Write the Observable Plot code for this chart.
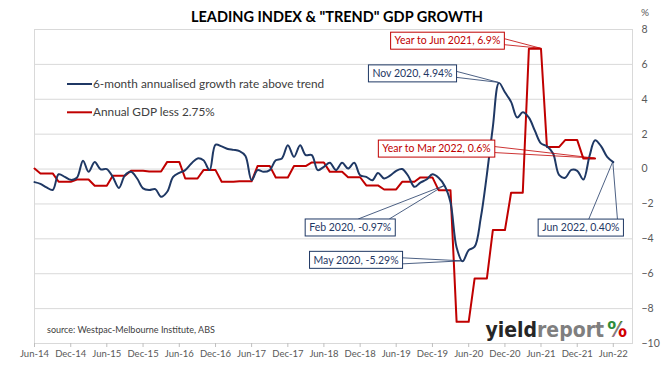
<!DOCTYPE html>
<html><head><meta charset="utf-8">
<script src="https://cdn.jsdelivr.net/npm/d3@7"></script>
<script src="https://cdn.jsdelivr.net/npm/@observablehq/plot@0.6"></script>
<style>
html,body{margin:0;padding:0;background:#fff;overflow:hidden}
#chart svg{display:block}
</style></head><body><div id="chart"></div>
<script>
// ---------- DATA ----------
const title = 'LEADING INDEX & "TREND" GDP GROWTH';
const seriesNames = ["6-month annualised growth rate above trend", "Annual GDP less 2.75%"];
const sourceText = "source: Westpac-Melbourne Institute, ABS";
const logoParts = ["yield", "report", "%"];
const startMonth = "2014-06";
// monthly, Jun-14 .. Jun-22
const leadingIndex = [
  -0.75,-0.85,-1.05,-1.2,-0.3,-0.45,-0.62,-0.5,0.48,-0.16,0.4,-0.02,
  0.0,-0.45,-1.08,-0.35,-0.16,-0.54,-1.11,-1.2,-1.15,-1.59,-1.3,-0.45,
  -0.22,-0.06,0.32,0.61,0.5,-0.06,1.4,1.3,1.15,1.1,1.03,0.75,
  -0.64,-0.06,-0.16,-0.06,0.5,0.61,1.37,0.7,1.37,0.8,0.8,-0.06,
  0.13,0.36,-0.06,0.36,0.03,0.36,-0.35,-0.45,-0.64,-0.22,-0.54,-0.38,
  -0.1,0.0,-0.4,-1.02,-0.78,-0.6,-0.3,-0.5,-0.97,-1.9,-4.5,-5.29,
  -4.65,-4.45,-2.8,-0.3,2.42,4.94,4.4,3.85,2.95,3.25,2.95,2.2,
  1.47,1.31,0.89,-0.35,-0.5,-0.05,-0.1,-0.6,0.75,1.65,1.3,0.7,
  0.40
];
// quarterly (quarter ending), annual GDP growth less 2.75%
const gdpQuarters = ["Jun-14","Sep-14","Dec-14","Mar-15","Jun-15","Sep-15","Dec-15","Mar-16",
  "Jun-16","Sep-16","Dec-16","Mar-17","Jun-17","Sep-17","Dec-17","Mar-18","Jun-18","Sep-18",
  "Dec-18","Mar-19","Jun-19","Sep-19","Dec-19","Mar-20","Jun-20","Sep-20","Dec-20","Mar-21",
  "Jun-21","Sep-21","Dec-21","Mar-22"];
const gdpLessTrend = [0.03,-0.25,-0.73,-0.6,-0.96,-0.39,-0.1,-0.14,
  0.41,-0.54,-0.06,-0.73,-0.7,0.17,-0.48,0.17,0.38,-0.16,
  -0.47,-0.94,-1.17,-0.73,-0.48,-1.21,-8.76,-6.27,-3.5,-1.36,
  6.9,1.27,1.66,0.6];
const xTickLabels = ["Jun-14","Dec-14","Jun-15","Dec-15","Jun-16","Dec-16","Jun-17","Dec-17",
  "Jun-18","Dec-18","Jun-19","Dec-19","Jun-20","Dec-20","Jun-21","Dec-21","Jun-22"];
const yTicks = [-10,-8,-6,-4,-2,0,2,4,6,8];
const annLabels = ["Year to Jun 2021, 6.9%","Nov 2020, 4.94%","Year to Mar 2022, 0.6%",
  "Feb 2020, -0.97%","May 2020, -5.29%","Jun 2022, 0.40%"];
const annMonths = ["Jun-21","Nov-20","Mar-22","Feb-20","May-20","Jun-22"];
const annSeries = [1,0,1,0,0,0];

// ---------- STYLE / LAYOUT ----------
const BLUE = "#1F3864", RED = "#C00000";
const annLayout = [ // offsets of box centre from point, leader side
  {dx:-93, dy:-7.5, side:"right"},
  {dx:-86, dy:-9, side:"right"},
  {dx:-158, dy:-9.5, side:"right"},
  {dx:-94, dy:42, side:"top"},
  {dx:-106, dy:-1, side:"right"},
  {dx:-32, dy:66, side:"top"}
];

// ---------- BUILD ----------
const parseQ = d3.utcParse("%b-%y");
const start = d3.utcParse("%Y-%m")(startMonth);
const blue = leadingIndex.map((v,i)=>({date:d3.utcMonth.offset(start,i), value:v}));
const red = gdpQuarters.flatMap((q,i)=>{
  const end = parseQ(q);
  return [{date:d3.utcMonth.offset(end,-2), value:gdpLessTrend[i]},{date:end, value:gdpLessTrend[i]}];
}).filter(d=>d.date>=start);
const xTicks = xTickLabels.map(parseQ);
const tickLab = new Map(xTicks.map((d,i)=>[+d, xTickLabels[i]]));
const xEnd = d3.utcDay.offset(xTicks[xTicks.length-1], 97);

const FONT = "Lato, 'Open Sans', sans-serif";
const plot = Plot.plot({
  width: 671, height: 368,
  marginLeft: 34, marginRight: 39, marginTop: 29, marginBottom: 25,
  style: {fontFamily: FONT, background: "#fff", color: "#595959"},
  x: {type: "utc", domain: [start, xEnd]},
  y: {domain: [-10, 8]},
  marks: [
    Plot.gridY(yTicks, {stroke: "#d9d9d9", strokeOpacity: 1}),
    Plot.frame({stroke: "#d9d9d9"}),
    Plot.axisX({ticks: xTicks, tickFormat: d => tickLab.get(+d), tickSize: 4, tickPadding: 3,
      stroke: "#bfbfbf", fill: "#595959", fontSize: 9.5, label: null}),
    Plot.axisY({anchor: "right", ticks: yTicks, tickSize: 0, tickPadding: 9,
      fill: "#595959", fontSize: 10.5, label: null}),
    Plot.line(red, {x: "date", y: "value", stroke: RED, strokeWidth: 2}),
    Plot.line(blue, {x: "date", y: "value", stroke: BLUE, strokeWidth: 2, curve: "catmull-rom"})
  ]
});
document.getElementById("chart").appendChild(plot);

const svg = d3.select(plot);
const xs = plot.scale("x"), ys = plot.scale("y");
const X0 = xs.range[0], X1 = xs.range[1], Y0 = ys.range[1], Y1 = ys.range[0];

// title and % unit
svg.append("text").attr("x", 337).attr("y", 22).attr("text-anchor","middle")
  .attr("font-family", FONT).attr("font-weight", 700).attr("font-size", 14.5).attr("fill","#000").text(title);
svg.append("text").attr("x", X1 + 9).attr("y", 16).attr("text-anchor","start").attr("font-family", FONT)
  .attr("font-size", 10).attr("fill","#595959").text("%");

// legend
const leg = svg.append("g").attr("font-family", FONT).attr("font-size", 11.8).attr("fill","#404040")
  .attr("text-anchor","start");
[BLUE, RED].forEach((c,i)=>{
  const yy = Y0 + 55 + i*28.3;
  leg.append("line").attr("x1", X0+33).attr("x2", X0+58).attr("y1", yy).attr("y2", yy)
    .attr("stroke", c).attr("stroke-width", 2);
  leg.append("text").attr("x", X0+59).attr("y", yy).attr("dy","0.35em").text(seriesNames[i]);
});

// source
svg.append("text").attr("x", X0+13).attr("y", Y1-10).attr("text-anchor","start").attr("font-family", FONT)
  .attr("font-size", 9).attr("fill","#404040").text(sourceText);

// logo (natural widths, right-aligned to the frame)
const defs = svg.append("defs");
const grad = defs.append("linearGradient").attr("id","pctGrad").attr("x1",0).attr("y1",0).attr("x2",1).attr("y2",1);
[["0","#2e8b3a"],["0.45","#2e8b3a"],["0.45","#7f7f7f"],["0.55","#7f7f7f"],["0.55","#d00000"],["1","#d00000"]]
  .forEach(([o,c])=>grad.append("stop").attr("offset",o).attr("stop-color",c));
const logo = svg.append("g").attr("font-family","'DejaVu Sans Condensed','DejaVu Sans',sans-serif")
  .attr("font-weight",700).attr("font-stretch","condensed").attr("text-anchor","end");
logo.append("text").attr("x", X1 - 5).attr("y", 337).attr("font-size", 22).attr("fill","url(#pctGrad)").text(logoParts[2]);
const lt = logo.append("text").attr("x", X1 - 28).attr("y", 337).attr("font-size", 21);
lt.append("tspan").attr("fill","#262626").text(logoParts[0]);
lt.append("tspan").attr("fill","#7f7f7f").text(logoParts[1]);

// annotations
const annG = svg.append("g").attr("font-family", FONT).attr("font-size", 10.5);
annLabels.forEach((lab,i)=>{
  const color = annSeries[i] === 0 ? BLUE : RED;
  const d = parseQ(annMonths[i]);
  let value;
  if (annSeries[i] === 0) value = blue.find(b => +b.date === +d).value;
  else value = gdpLessTrend[gdpQuarters.indexOf(annMonths[i])];
  const px = xs.apply(d), py = ys.apply(value);
  const L = annLayout[i];
  const cx = px + L.dx, cy = py + L.dy;
  const grp = annG.append("g");
  const wedge = grp.append("path").attr("fill","none").attr("stroke", color).attr("stroke-width", 0.8);
  const rect = grp.append("rect").attr("fill","#fff").attr("stroke", color).attr("stroke-width", 1);
  const t = grp.append("text").attr("x", cx).attr("y", cy).attr("dy","0.35em")
    .attr("text-anchor","middle").attr("fill", color).text(lab);
  const w = t.node().getComputedTextLength() + 8, h = 17;
  const rx = cx - w/2, ry = cy - h/2;
  rect.attr("x", rx).attr("y", ry).attr("width", w).attr("height", h);
  let b1, b2;
  if (L.side === "right") { b1 = [rx+w, cy-2]; b2 = [rx+w, cy+4]; }
  else { b1 = [cx+8, ry]; b2 = [cx + w/2 - 6, ry]; }
  wedge.attr("d", `M${b1[0]},${b1[1]}L${px},${py}L${b2[0]},${b2[1]}`);
});
</script></body></html>
